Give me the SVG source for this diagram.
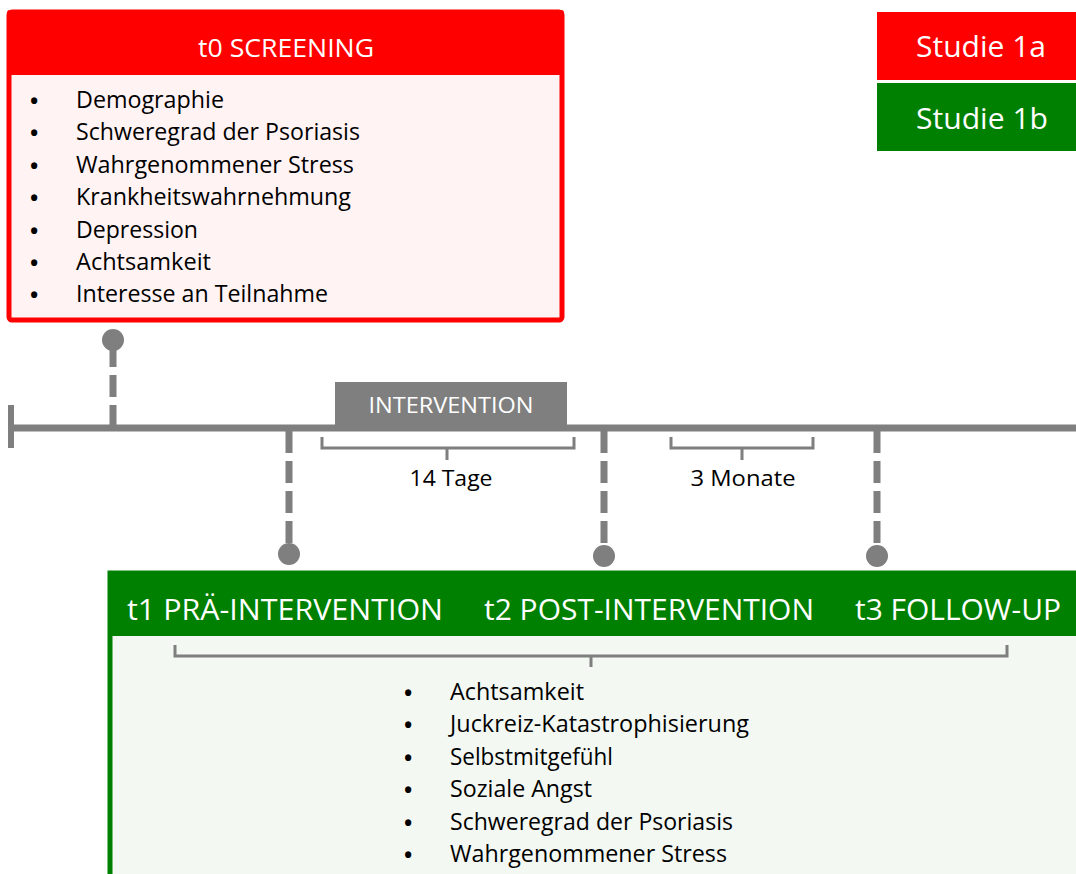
<svg xmlns="http://www.w3.org/2000/svg" width="1076" height="874" viewBox="0 0 1076 874">
<style>
text{font-family:"Open Sans","Noto Sans","Liberation Sans",sans-serif}
.hd{fill:#fff;font-size:26px}
.it{fill:#000;font-size:23px}
.bu{font-size:22px;font-weight:bold}
.lab{fill:#000;font-size:22px}
.dash{stroke:#7f7f7f;stroke-width:7;stroke-dasharray:22 8;fill:none}
.dot{fill:#7f7f7f}
.brace{stroke:#7f7f7f;stroke-width:3;fill:none}
</style>
<rect width="1076" height="874" fill="#fff"/>
<g id="connectors">
<line x1="10" y1="428" x2="1076" y2="428" stroke="#7f7f7f" stroke-width="7"/>
<line x1="11" y1="405" x2="11" y2="448" stroke="#7f7f7f" stroke-width="6"/>
<circle class="dot" cx="113" cy="340" r="11"/>
<line class="dash" x1="113" y1="345" x2="113" y2="428"/>
<line class="dash" x1="289" y1="431" x2="289" y2="552"/>
<circle class="dot" cx="289" cy="554" r="11"/>
<line class="dash" x1="604" y1="431" x2="604" y2="552"/>
<circle class="dot" cx="604" cy="556" r="11"/>
<line class="dash" x1="877" y1="431" x2="877" y2="552"/>
<circle class="dot" cx="877" cy="556" r="11"/>
</g>
<g id="t0">
<rect x="9" y="12" width="553" height="308" rx="3" fill="#fff3f3" stroke="#ff0000" stroke-width="5"/>
<rect x="7" y="10" width="557" height="65" rx="3" fill="#ff0000"/>
<text class="hd" x="286" y="57" text-anchor="middle" textLength="176" lengthAdjust="spacingAndGlyphs">t0 SCREENING</text>
<g class="it">
<text class="bu" x="30" y="109">•</text><text x="76" y="108" textLength="148" lengthAdjust="spacingAndGlyphs">Demographie</text>
<text class="bu" x="30" y="141">•</text><text x="76" y="140" textLength="284" lengthAdjust="spacingAndGlyphs">Schweregrad der Psoriasis</text>
<text class="bu" x="30" y="174">•</text><text x="76" y="173" textLength="278" lengthAdjust="spacingAndGlyphs">Wahrgenommener Stress</text>
<text class="bu" x="30" y="206">•</text><text x="76" y="205" textLength="275" lengthAdjust="spacingAndGlyphs">Krankheitswahrnehmung</text>
<text class="bu" x="30" y="239">•</text><text x="76" y="238" textLength="122" lengthAdjust="spacingAndGlyphs">Depression</text>
<text class="bu" x="30" y="271">•</text><text x="76" y="270" textLength="135" lengthAdjust="spacingAndGlyphs">Achtsamkeit</text>
<text class="bu" x="30" y="303">•</text><text x="76" y="302" textLength="252" lengthAdjust="spacingAndGlyphs">Interesse an Teilnahme</text>
</g>
</g>
<g id="legend">
<rect x="877" y="12" width="199" height="68" fill="#ff0000"/>
<text x="981" y="57" fill="#fff" font-size="30" text-anchor="middle" textLength="130" lengthAdjust="spacingAndGlyphs">Studie 1a</text>
<rect x="877" y="83" width="199" height="68" fill="#008000"/>
<text x="982" y="129" fill="#fff" font-size="30" text-anchor="middle" textLength="132" lengthAdjust="spacingAndGlyphs">Studie 1b</text>
</g>
<g id="intervention">
<rect x="335" y="382" width="232" height="46" fill="#7f7f7f"/>
<text x="451" y="413" fill="#fff" font-size="22" text-anchor="middle" textLength="165" lengthAdjust="spacingAndGlyphs">INTERVENTION</text>
</g>
<g id="brace14">
<path class="brace" d="M322,437 V448 H574 V437 M447,448 V460"/>
<text class="lab" x="451" y="486" text-anchor="middle" textLength="83" lengthAdjust="spacingAndGlyphs">14 Tage</text>
</g>
<g id="brace3">
<path class="brace" d="M671,437 V448 H813 V437 M742,448 V460"/>
<text class="lab" x="743" y="486" text-anchor="middle" textLength="105" lengthAdjust="spacingAndGlyphs">3 Monate</text>
</g>
<g id="t123">
<rect x="110" y="573" width="980" height="320" fill="#f3f8f3" stroke="#008000" stroke-width="5"/>
<rect x="108" y="571" width="970" height="65" fill="#008000"/>
<g fill="#fff" font-size="30">
<text x="127" y="620" textLength="316" lengthAdjust="spacingAndGlyphs">t1 PRÄ-INTERVENTION</text>
<text x="484" y="620" textLength="330" lengthAdjust="spacingAndGlyphs">t2 POST-INTERVENTION</text>
<text x="855" y="620" textLength="206" lengthAdjust="spacingAndGlyphs">t3 FOLLOW-UP</text>
</g>
<path class="brace" d="M175,645 V656 H1007 V645 M591,656 V667"/>
<g class="it">
<text class="bu" x="404" y="701">•</text><text x="450" y="700" textLength="134" lengthAdjust="spacingAndGlyphs">Achtsamkeit</text>
<text class="bu" x="404" y="733">•</text><text x="450" y="732" textLength="299" lengthAdjust="spacingAndGlyphs">Juckreiz-Katastrophisierung</text>
<text class="bu" x="404" y="766">•</text><text x="450" y="765" textLength="163" lengthAdjust="spacingAndGlyphs">Selbstmitgefühl</text>
<text class="bu" x="404" y="798">•</text><text x="450" y="797" textLength="142" lengthAdjust="spacingAndGlyphs">Soziale Angst</text>
<text class="bu" x="404" y="831">•</text><text x="450" y="830" textLength="283" lengthAdjust="spacingAndGlyphs">Schweregrad der Psoriasis</text>
<text class="bu" x="404" y="863">•</text><text x="450" y="862" textLength="277" lengthAdjust="spacingAndGlyphs">Wahrgenommener Stress</text>
</g>
</g>
</svg>
